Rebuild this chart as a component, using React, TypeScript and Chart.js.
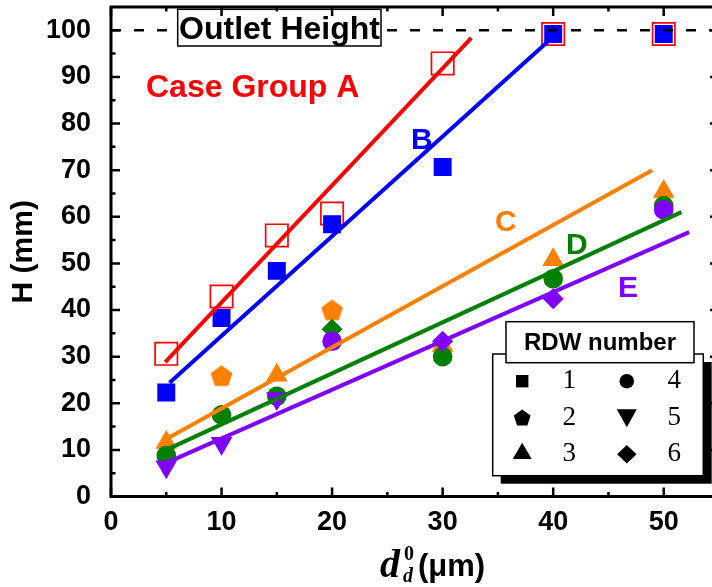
import React, { useEffect, useRef } from 'react';
import { Chart, registerables } from 'chart.js';

Chart.register(...registerables);

// ---------------- data ----------------
const diameters = [5, 10, 15, 20, 30, 40, 50];
const heightA = [30.6, 42.9, 56.0, 60.7, 92.9, 99.2, 99.2];
const heightB = [22.3, 38.3, 48.4, 58.4, 70.7, 99.2, 99.2];
const heightC = [11.6, 25.7, 26.0, 39.8, 32.4, 50.8, 65.4];
const heightD = [8.8, 17.5, 21.5, 35.9, 30.0, 46.7, 62.4];
const heightE = [6.4, 11.4, 21.0, 33.3, 33.3, 42.4, 61.5];

// RDW number of each point (marker shape)
const rdwB = [1, 1, 1, 1, 1, 1, 1];
const rdwC = [3, 2, 3, 2, 3, 3, 3];
const rdwD = [4, 4, 4, 6, 4, 4, 4];
const rdwE = [5, 5, 5, 4, 6, 6, 4];

// fitted lines (end points)
const fitAx = [4.9, 32.6];
const fitAy = [28.8, 98.4];
const fitBx = [5.3, 39.9];
const fitBy = [24.4, 98.4];
const fitCx = [4.6, 48.95];
const fitCy = [11.8, 70.0];
const fitDx = [5.0, 51.6];
const fitDy = [10.0, 61.0];
const fitEx = [5.0, 52.3];
const fitEy = [7.2, 56.7];

const outletHeight = 100;
const xTicks = [0, 10, 20, 30, 40, 50];
const yTicks = [0, 10, 20, 30, 40, 50, 60, 70, 80, 90, 100];
const xMin = 0;
const xMax = 55;
const yMin = 0;
const yMax = 105;

const legendRows = [
  ['1', '4'],
  ['2', '5'],
  ['3', '6'],
];

const RED = '#ff0000';
const BLUE = '#0000ff';
const ORANGE = '#ff8000';
const GREEN = '#008000';
const PURPLE = '#8000ff';
const SANS = "'Liberation Sans', Arial, sans-serif";
const SERIF = "'Liberation Serif', 'Times New Roman', serif";

function makePentagon(color: string, R: number): HTMLCanvasElement {
  const size = Math.ceil(2 * R + 4);
  const c = document.createElement('canvas');
  c.width = size;
  c.height = size;
  const g = c.getContext('2d')!;
  g.fillStyle = color;
  g.beginPath();
  const cx = size / 2;
  const cy = size / 2;
  for (let i = 0; i < 5; i++) {
    const a = -Math.PI / 2 + (i * 2 * Math.PI) / 5;
    const px = cx + R * Math.cos(a);
    const py = cy + R * Math.sin(a);
    if (i === 0) g.moveTo(px, py);
    else g.lineTo(px, py);
  }
  g.closePath();
  g.fill();
  return c;
}

function markerFor(rdw: number, color: string) {
  switch (rdw) {
    case 1:
      return { style: 'rect' as any, rot: 0, r: 12.7 };
    case 2:
      return { style: makePentagon(color, 11.4) as any, rot: 0, r: 11 };
    case 3:
      return { style: 'triangle' as any, rot: 0, r: 12.5 };
    case 4:
      return { style: 'circle' as any, rot: 0, r: 9.8 };
    case 5:
      return { style: 'triangle' as any, rot: 180, r: 12.5 };
    default:
      return { style: 'rectRot' as any, rot: 0, r: 10.5 };
  }
}

function pointSet(label: string, ys: number[], rdws: number[], color: string, order: number) {
  const m = rdws.map((r) => markerFor(r, color));
  return {
    type: 'scatter' as const,
    label,
    data: diameters.map((x, i) => ({ x, y: ys[i] })),
    showLine: false,
    pointStyle: m.map((k) => k.style),
    pointRotation: m.map((k) => k.rot),
    pointRadius: m.map((k) => k.r),
    pointBackgroundColor: color,
    pointBorderColor: color,
    pointBorderWidth: 0,
    order,
  };
}

function fitLine(label: string, xs: number[], ys: number[], color: string) {
  return {
    type: 'line' as const,
    label,
    data: xs.map((x, i) => ({ x, y: ys[i] })),
    showLine: true,
    borderColor: color,
    borderWidth: 4,
    pointRadius: 0,
    fill: false,
    order: 1,
  };
}

const noPad = (s: any) => {
  s.paddingLeft = 0;
  s.paddingRight = 0;
  s.paddingTop = 0;
  s.paddingBottom = 0;
};

const decorPlugin = {
  id: 'decor',
  afterDatasetsDraw(chart: any) {
    const ctx = chart.ctx;
    ctx.save();
    // Outlet height box
    ctx.fillStyle = '#fff';
    ctx.fillRect(177.7, 9.3, 203.3, 36.7);
    ctx.strokeStyle = '#000';
    ctx.lineWidth = 1.5;
    ctx.strokeRect(177.7, 9.3, 203.3, 36.7);
    ctx.fillStyle = '#000';
    ctx.font = `bold 32px ${SANS}`;
    ctx.textAlign = 'center';
    ctx.textBaseline = 'alphabetic';
    ctx.fillText('Outlet Height', 279.5, 38.5);

    ctx.textAlign = 'left';
    ctx.fillStyle = RED;
    ctx.font = `bold 32px ${SANS}`;
    ctx.fillText('Case Group A', 146, 97);
    ctx.font = `bold 30px ${SANS}`;
    ctx.fillStyle = BLUE;
    ctx.fillText('B', 411, 148.5);
    ctx.fillStyle = ORANGE;
    ctx.fillText('C', 495, 231);
    ctx.fillStyle = GREEN;
    ctx.fillText('D', 566, 253.5);
    ctx.fillStyle = PURPLE;
    ctx.fillText('E', 618, 297);
    ctx.restore();
  },
  afterDraw(chart: any) {
    const ctx = chart.ctx;
    const { left, right, top, bottom } = chart.chartArea;
    const xs = chart.scales.x;
    const ys = chart.scales.y;
    ctx.save();
    // frame
    ctx.strokeStyle = '#000';
    ctx.lineWidth = 3;
    ctx.strokeRect(left, top, right - left, bottom - top);
    // inward ticks
    ctx.lineWidth = 2.5;
    ctx.beginPath();
    for (let v = xMin; v <= xMax; v += 5) {
      const p = xs.getPixelForValue(v);
      const len = v % 10 === 0 ? 9 : 4.5;
      ctx.moveTo(p, bottom);
      ctx.lineTo(p, bottom - len);
      ctx.moveTo(p, top);
      ctx.lineTo(p, top + len);
    }
    for (let v = yMin; v <= 100; v += 5) {
      const p = ys.getPixelForValue(v);
      const len = v % 10 === 0 ? 9 : 4.5;
      ctx.moveTo(left, p);
      ctx.lineTo(left + len, p);
      ctx.moveTo(right, p);
      ctx.lineTo(right - len, p);
    }
    ctx.stroke();

    // x axis title: d_d^0 (μm)
    ctx.fillStyle = '#000';
    ctx.textAlign = 'left';
    ctx.textBaseline = 'alphabetic';
    ctx.font = `italic bold 40px ${SERIF}`;
    ctx.fillText('d', 380, 577);
    ctx.font = `bold 20px ${SERIF}`;
    ctx.fillText('0', 404, 560);
    ctx.font = `italic bold 20px ${SERIF}`;
    ctx.fillText('d', 403, 582);
    ctx.font = `bold 31px ${SANS}`;
    ctx.fillText('(\u03bcm)', 418, 576);

    // legend box
    ctx.fillStyle = '#000';
    ctx.fillRect(500.7, 362, 211, 121.7);
    ctx.fillStyle = '#fff';
    ctx.fillRect(492.7, 354, 210.6, 121.7);
    ctx.lineWidth = 1.5;
    ctx.strokeStyle = '#000';
    ctx.strokeRect(492.7, 354, 210.6, 121.7);
    ctx.fillStyle = '#fff';
    ctx.fillRect(506, 321.7, 188, 41);
    ctx.strokeRect(506, 321.7, 188, 41);
    ctx.fillStyle = '#000';
    ctx.font = `bold 24px ${SANS}`;
    ctx.textAlign = 'center';
    ctx.textBaseline = 'middle';
    ctx.fillText('RDW number', 600, 343);

    const c1 = 522.2;
    const c2 = 626.8;
    const rowsY = [381.2, 417.5, 454.2];
    // square
    ctx.fillRect(c1 - 6.2, rowsY[0] - 6.2, 12.4, 12.4);
    // circle
    ctx.beginPath();
    ctx.arc(c2, rowsY[0], 7.3, 0, Math.PI * 2);
    ctx.fill();
    // pentagon
    ctx.beginPath();
    for (let i = 0; i < 5; i++) {
      const a = -Math.PI / 2 + (i * 2 * Math.PI) / 5;
      const px = c1 + 8.8 * Math.cos(a);
      const py = rowsY[1] + 0.8 + 8.8 * Math.sin(a);
      if (i === 0) ctx.moveTo(px, py);
      else ctx.lineTo(px, py);
    }
    ctx.closePath();
    ctx.fill();
    // inverted triangle
    ctx.beginPath();
    ctx.moveTo(c2 - 10, 409.3);
    ctx.lineTo(c2 + 10, 409.3);
    ctx.lineTo(c2, 427.3);
    ctx.closePath();
    ctx.fill();
    // triangle
    ctx.beginPath();
    ctx.moveTo(c1 - 9.5, 459);
    ctx.lineTo(c1 + 9.5, 459);
    ctx.lineTo(c1, 442.7);
    ctx.closePath();
    ctx.fill();
    // diamond
    ctx.beginPath();
    ctx.moveTo(c2 - 9.7, rowsY[2]);
    ctx.lineTo(c2, rowsY[2] - 9.3);
    ctx.lineTo(c2 + 9.7, rowsY[2]);
    ctx.lineTo(c2, rowsY[2] + 9.3);
    ctx.closePath();
    ctx.fill();

    ctx.font = `27px ${SERIF}`;
    legendRows.forEach((row, i) => {
      ctx.fillText(row[0], 569.3, rowsY[i]);
      ctx.fillText(row[1], 674.3, rowsY[i]);
    });
    ctx.restore();
  },
};

export default function App() {
  const ref = useRef<HTMLCanvasElement | null>(null);
  useEffect(() => {
    document.documentElement.style.overflow = 'hidden';
    document.body.style.overflow = 'hidden';
    const canvas = ref.current!;
    const chart = new Chart(canvas, {
      type: 'scatter',
      data: {
        datasets: [
          {
            type: 'line' as const,
            label: 'Outlet Height',
            data: [
              { x: xMin, y: outletHeight },
              { x: xMax, y: outletHeight },
            ],
            borderColor: '#000',
            borderWidth: 2.5,
            borderDash: [10, 13],
            pointRadius: 0,
            fill: false,
            order: 0,
          } as any,
          fitLine('A fit', fitAx, fitAy, RED),
          fitLine('B fit', fitBx, fitBy, BLUE),
          fitLine('C fit', fitCx, fitCy, ORANGE),
          fitLine('D fit', fitDx, fitDy, GREEN),
          fitLine('E fit', fitEx, fitEy, PURPLE),
          pointSet('E', heightE, rdwE, PURPLE, 2),
          pointSet('D', heightD, rdwD, GREEN, 3),
          pointSet('C', heightC, rdwC, ORANGE, 4),
          pointSet('B', heightB, rdwB, BLUE, 5),
          {
            type: 'scatter' as const,
            label: 'A',
            data: diameters.map((x, i) => ({ x, y: heightA[i] })),
            showLine: false,
            pointStyle: 'rect',
            pointRadius: 15.8,
            pointBackgroundColor: 'rgba(0,0,0,0)',
            pointBorderColor: RED,
            pointBorderWidth: 1.7,
            order: 6,
          } as any,
        ] as any,
      },
      options: {
        animation: false,
        responsive: true,
        maintainAspectRatio: false,
        layout: { autoPadding: false, padding: { top: 7, right: 5, left: 0, bottom: 0 } },
        plugins: {
          legend: { display: false },
          tooltip: { enabled: false },
        },
        scales: {
          x: {
            type: 'linear',
            min: xMin,
            max: xMax,
            afterBuildTicks: (s: any) => {
              s.ticks = xTicks.map((v) => ({ value: v }));
            },
            afterFit: (s: any) => {
              s.height = 90.5;
              noPad(s);
            },
            grid: { display: false, drawTicks: false },
            border: { display: false },
            ticks: {
              font: { family: SANS, size: 27, weight: 'bold' },
              color: '#000',
              padding: 10,
              maxRotation: 0,
              autoSkip: false,
            },
          },
          y: {
            type: 'linear',
            min: yMin,
            max: yMax,
            afterBuildTicks: (s: any) => {
              s.ticks = yTicks.map((v) => ({ value: v }));
            },
            afterFit: (s: any) => {
              s.width = 111;
              noPad(s);
            },
            grid: { display: false, drawTicks: false },
            border: { display: false },
            ticks: {
              font: { family: SANS, size: 27, weight: 'bold' },
              color: '#000',
              padding: 20,
              autoSkip: false,
            },
            title: {
              display: true,
              text: 'H (mm)',
              color: '#000',
              font: { family: SANS, size: 30, weight: 'bold' },
              padding: { top: 6, bottom: 0 },
            },
          },
        },
      } as any,
      plugins: [decorPlugin],
    });
    return () => chart.destroy();
  }, []);
  return (
    <div style={{ position: 'fixed', left: 0, top: 0, width: 724, height: 587, background: '#fff' }}>
      <canvas ref={ref} />
    </div>
  );
}
